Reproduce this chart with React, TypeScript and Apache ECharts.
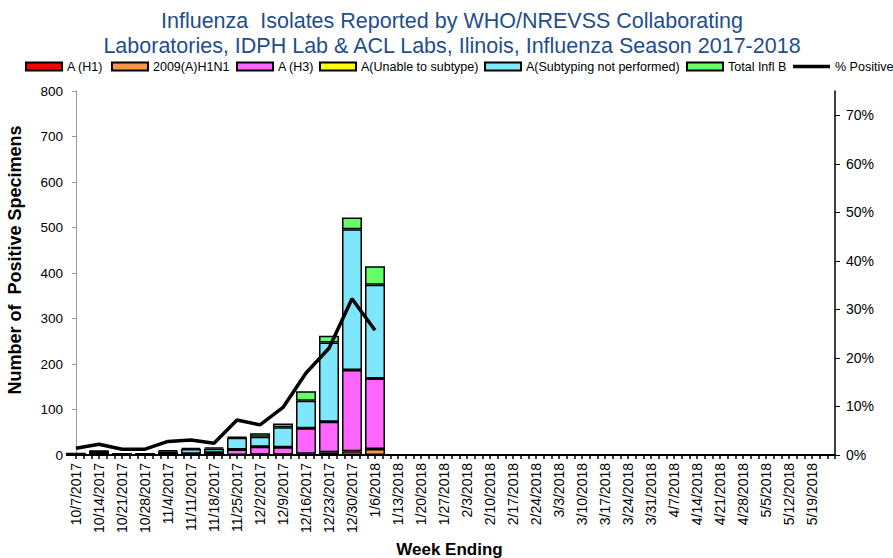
import React, { useEffect, useRef } from "react";
import * as echarts from "echarts";

const weeks = ["10/7/2017","10/14/2017","10/21/2017","10/28/2017","11/4/2017","11/11/2017","11/18/2017","11/25/2017","12/2/2017","12/9/2017","12/16/2017","12/23/2017","12/30/2017","1/6/2018","1/13/2018","1/20/2018","1/27/2018","2/3/2018","2/10/2018","2/17/2018","2/24/2018","3/3/2018","3/10/2018","3/17/2018","3/24/2018","3/31/2018","4/7/2018","4/14/2018","4/21/2018","4/28/2018","5/5/2018","5/12/2018","5/19/2018","5/26/2018"];

const aH1 = [0,0,0,0,0,0,0,0,0,0,0,0,0,0];
const h1n1 = [0,0,0,0,0,0,0,0,1,1,3,6,8,13];
const aH3 = [1,6,1,1,3,3,5,12,17,16,56,67,179,155];
const unable = [0,0,0,0,0,0,0,0,0,0,0,0,0,0];
const notPerformed = [2,2,1,1,5,10,9,26,22,44,60,174,309,206];
const inflB = [1,2,1,1,3,3,3,2,8,8,21,15,26,41];
const pctPositive = [1.4,2.2,1.2,1.2,2.8,3.1,2.4,7.2,6.2,9.8,16.9,22.0,32.2,25.7];

const leftTicks = { min: 0, max: 800, interval: 100 };
const rightTicks = { min: 0, max: 75, interval: 10 };

const FONT = "Liberation Sans, Arial, sans-serif";

export default function App() {
  const ref = useRef<HTMLDivElement>(null);
  useEffect(() => {
    const chart = echarts.init(ref.current!, null, { renderer: "svg" });
    const tickCats = Array.from({ length: (weeks.length - 1) * 3 + 1 }, (_, i) => String(i));
    const barDefs = [
      { name: "A (H1)", data: aH1, color: "#FF0000" },
      { name: "2009(A)H1N1", data: h1n1, color: "#F79646" },
      { name: "A (H3)", data: aH3, color: "#FF66FF" },
      { name: "A(Unable to subtype)", data: unable, color: "#FFFF00" },
      { name: "A(Subtyping not performed)", data: notPerformed, color: "#7FE7FC" },
      { name: "Total Infl B", data: inflB, color: "#66FF66" },
    ];
    const legendLefts = [25, 111, 236, 319, 484, 686];
    const barSeries = barDefs.map((s) => ({
      name: s.name,
      type: "bar",
      stack: "total",
      xAxisIndex: 0,
      yAxisIndex: 0,
      barWidth: 20,
      clip: true,
      data: s.data,
      itemStyle: { color: s.color, borderColor: "#000", borderWidth: 1.5 },
    }));
    const legends = [
      ...barDefs.map((d, i) => ({
        top: 60,
        left: legendLefts[i],
        padding: 0,
        itemWidth: 36,
        itemHeight: 8,
        icon: "rect",
        textStyle: { fontSize: 12.5, color: "#000", fontFamily: FONT },
        data: [d.name],
      })),
      {
        top: 60,
        left: 793,
        padding: 0,
        itemWidth: 37,
        itemHeight: 3.5,
        icon: "rect",
        textStyle: { fontSize: 12.5, color: "#000", fontFamily: FONT },
        data: ["% Positive"],
      },
    ];
    chart.setOption({
      animation: false,
      textStyle: { fontFamily: FONT },
      title: {
        text: "Influenza  Isolates Reported by WHO/NREVSS Collaborating\nLaboratories, IDPH Lab & ACL Labs, Ilinois, Influenza Season 2017-2018",
        left: 447,
        textAlign: "center",
        top: 3,
        textStyle: { color: "#1F4E8C", fontSize: 21.5, fontWeight: "normal", lineHeight: 25, fontFamily: FONT },
      },
      legend: legends,
      grid: { left: 76, right: 58, top: 91, bottom: 103, containLabel: false, outerBoundsMode: "none" },
      xAxis: [
        {
          type: "category",
          data: weeks,
          boundaryGap: false,
          axisLine: { lineStyle: { color: "#000", width: 2 } },
          axisTick: { show: false },
          axisLabel: {
            rotate: 90,
            fontSize: 14,
            color: "#000",
            margin: 8,
            interval: (idx: number) => idx < weeks.length - 1,
            fontFamily: FONT,
          },
          name: "Week Ending",
          nameLocation: "middle",
          nameGap: 78,
          nameTextStyle: { fontSize: 17, fontWeight: "bold", color: "#000", fontFamily: FONT, padding: [0, 12, 0, 0] },
        },
        {
          type: "category",
          data: tickCats,
          position: "bottom",
          boundaryGap: false,
          axisLine: { show: false },
          axisLabel: { show: false },
          axisTick: { show: true, interval: 0, length: 4, lineStyle: { color: "#000", width: 1.5 } },
        },
      ],
      yAxis: [
        {
          type: "value",
          ...leftTicks,
          axisLine: { show: true, lineStyle: { color: "#999", width: 1 } },
          axisTick: { show: true, length: 4, lineStyle: { color: "#999" } },
          splitLine: { show: false },
          axisLabel: { fontSize: 13.5, color: "#000", margin: 13, fontFamily: FONT },
          name: "Number of  Positive Specimens",
          nameLocation: "middle",
          nameGap: 52,
          nameTextStyle: { fontSize: 18, fontWeight: "bold", color: "#000", fontFamily: FONT, padding: [0, 0, 0, 26] },
        },
        {
          type: "value",
          ...rightTicks,
          position: "right",
          axisLine: { show: true, lineStyle: { color: "#000", width: 1.5 } },
          axisTick: { show: true, length: 5, lineStyle: { color: "#000" } },
          splitLine: { show: false },
          axisLabel: { fontSize: 14, color: "#000", margin: 11, formatter: "{value}%", showMaxLabel: false, fontFamily: FONT },
        },
      ],
      series: [
        ...barSeries,
        {
          name: "% Positive",
          type: "line",
          xAxisIndex: 0,
          yAxisIndex: 1,
          data: pctPositive,
          symbol: "none",
          showSymbol: false,
          lineStyle: { color: "#000", width: 3.5 },
          itemStyle: { color: "#000" },
          z: 5,
        },
      ],
    });
    return () => chart.dispose();
  }, []);
  return <div ref={ref} style={{ width: 893, height: 558, position: "absolute", left: 0, top: 0, background: "#fff" }} />;
}
